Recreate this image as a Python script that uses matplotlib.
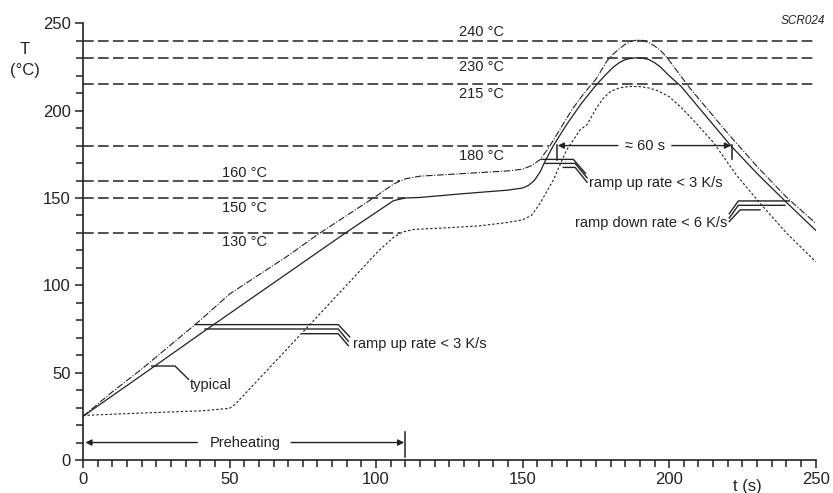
import matplotlib
matplotlib.use('Agg')
import matplotlib.pyplot as plt
from matplotlib.ticker import MultipleLocator

plt.rcParams['font.family'] = ['Liberation Sans', 'DejaVu Sans']

# ---- data ----
# upper limit curve (dash-dot)
t_max = [0, 10, 20, 30, 40, 50, 60, 70, 80, 90, 100, 106, 110, 115, 125, 135, 145, 150,
         153, 156, 159, 163, 167, 171, 175, 179, 181, 183, 185, 187, 189, 191, 193, 195,
         197, 199, 203, 207, 212, 220, 230, 240, 250]
T_max = [25, 39, 52, 66, 80, 95, 106, 117, 129, 140, 151, 158, 161, 162.5, 163.5, 164.5,
         165.5, 166.5, 168.5, 172, 179, 190, 201, 210, 218, 229, 232.5, 235.5, 238, 239.7,
         240.4, 240.2, 239, 237, 234.5, 231, 222, 213, 203, 187, 168, 150.5, 135.5]
# typical curve (solid)
t_typ = [0, 20, 42, 90, 106, 110, 115, 130, 145, 150, 152, 154, 156, 157.5, 160.5, 165,
         170, 175, 178, 181, 183, 185, 187, 189, 191, 193, 195, 197, 200, 204, 210, 215,
         221, 230, 240, 250]
T_typ = [25, 48.5, 74.5, 130.5, 148.5, 150, 150.3, 152.5, 154.5, 155.7, 157.2, 160, 165,
         170.5, 180, 192, 204, 214.5, 220, 225, 227.5, 229.2, 230, 230.2, 230, 229.3, 227.5,
         225, 220, 214, 202, 192, 180, 164, 147.5, 131.5]
# lower limit curve (dotted)
t_min = [0, 17, 41, 50, 52, 77.4, 101, 106, 109, 113, 125, 135, 145, 150, 153, 156, 158,
         160.5, 163, 165, 169.6, 172, 175, 177.5, 180, 183, 186, 190, 193, 196, 200, 204,
         208, 215, 223, 231, 240, 250]
T_min = [25.5, 26.7, 28.2, 29.6, 32, 77.5, 120, 127.5, 130.5, 132, 133, 134, 136, 137.5,
         140, 147, 153, 160.3, 170, 177.4, 189, 192, 201, 207, 211, 213, 213.8, 213.8, 213,
         211.5, 208, 202, 195, 182, 163, 147, 130, 113.5]

# reference temperature levels
ref_levels = [240, 230, 215, 180, 160, 150, 130]
ref_ends = [250, 250, 250, 159, 108, 110, 108]
ref_labels = ['240 °C', '230 °C', '215 °C', '180 °C', '160 °C', '150 °C', '130 °C']
ref_label_pos = [(136, 245.2), (136, 224.8), (136, 209.5), (136, 174),
                 (55, 164.3), (55, 144.2), (55, 124.8)]

x_ticks = [0, 50, 100, 150, 200, 250]
y_ticks = [0, 50, 100, 150, 200, 250]

# ---- figure ----
fig = plt.figure(figsize=(8.33, 4.93), dpi=100)
ax = fig.add_axes([83 / 833, 33 / 493, 732.7 / 833, 436.7 / 493])
ax.set_xlim(0, 250)
ax.set_ylim(0, 250)
for s in ['top', 'right']:
    ax.spines[s].set_visible(False)
for s in ['left', 'bottom']:
    ax.spines[s].set_linewidth(1.2)
    ax.spines[s].set_color('#222222')
ax.set_xticks(x_ticks)
ax.set_yticks(y_ticks)
ax.xaxis.set_minor_locator(MultipleLocator(5))
ax.yaxis.set_minor_locator(MultipleLocator(10))
ax.tick_params(which='both', direction='out', width=1.1, color='#222222',
               labelsize=12, pad=3, labelcolor='#222222')
ax.tick_params(which='major', length=6)
ax.tick_params(which='minor', length=5)

ink = '#222222'

# reference dashed lines
for lvl, end in zip(ref_levels, ref_ends):
    ax.plot([0, end], [lvl, lvl], color=ink, lw=1.1, linestyle=(0, (7, 2.8)),
            clip_on=False)
for lab, (x, y) in zip(ref_labels, ref_label_pos):
    ax.text(x, y, lab, ha='center', va='center', fontsize=10.5, color=ink)

# curves
ax.plot(t_max, T_max, color=ink, lw=0.8, linestyle=(0, (6, 1.5, 1, 1.5)))
ax.plot(t_typ, T_typ, color=ink, lw=0.9, linestyle='-')
ax.plot(t_min, T_min, color=ink, lw=0.8, linestyle=(0, (2.2, 1.8)))

lw_l = 1.0
# "typical" leader
ax.plot([23.4, 31.4, 36], [53.8, 53.8, 46.2], color=ink, lw=lw_l)
ax.text(36.5, 43, 'typical', ha='left', va='center', fontsize=10.5, color=ink)

# lower ramp-up leaders
ax.plot([38.2, 87.1, 91], [77.5, 77.5, 70.5], color=ink, lw=lw_l)
ax.plot([41.6, 87.1, 90.5], [75, 75, 68], color=ink, lw=lw_l)
ax.plot([75, 87.1, 90.5], [72.3, 72.3, 65.5], color=ink, lw=lw_l)
ax.text(92, 66.2, 'ramp up rate < 3 K/s', ha='left', va='center', fontsize=10.5, color=ink)

# upper ramp-up leaders
ax.plot([156.5, 167.3, 171.5], [172.1, 172.1, 164], color=ink, lw=lw_l)
ax.plot([157.6, 167.9, 172], [169.8, 169.8, 161.5], color=ink, lw=lw_l)
ax.plot([163.9, 167.9, 172], [167.5, 167.5, 159], color=ink, lw=lw_l)
ax.text(172.7, 158.7, 'ramp up rate < 3 K/s', ha='left', va='center', fontsize=10.5, color=ink)

# ramp-down leaders
ax.plot([241, 223.6, 220.5], [148.3, 148.3, 141], color=ink, lw=lw_l)
ax.plot([239.5, 223.6, 220.5], [145.8, 145.8, 138.5], color=ink, lw=lw_l)
ax.plot([231, 224.2, 220.5], [143.2, 143.2, 136.5], color=ink, lw=lw_l)
ax.text(219.8, 135.5, 'ramp down rate < 6 K/s', ha='right', va='center', fontsize=10.5, color=ink)

arr = dict(arrowstyle='-|>', color=ink, lw=1.0, mutation_scale=9, shrinkA=0, shrinkB=0)
# preheating arrow
ax.annotate('', xy=(0.8, 10), xytext=(39, 10), arrowprops=arr)
ax.annotate('', xy=(109.6, 10), xytext=(71, 10), arrowprops=arr)
ax.plot([110, 110], [2, 16], color=ink, lw=1.1)
ax.text(55.3, 10, 'Preheating', ha='center', va='center', fontsize=10.5, color=ink)

# 60 s arrow
ax.annotate('', xy=(162, 180), xytext=(182.5, 180), arrowprops=arr)
ax.annotate('', xy=(221.1, 180), xytext=(200.9, 180), arrowprops=arr)
ax.plot([161.8, 161.8], [172, 180.3], color=ink, lw=1.1)
ax.plot([221.3, 221.3], [172.5, 180.3], color=ink, lw=1.1)
ax.text(191.7, 180, '≈ 60 s', ha='center', va='center', fontsize=10.5, color=ink)

# axis titles
fig.text(25 / 833, 1 - 50 / 493, 'T', ha='center', va='center', fontsize=12, color=ink)
fig.text(25 / 833, 1 - 70 / 493, '(°C)', ha='center', va='center', fontsize=12, color=ink)
fig.text(747 / 833, 1 - 486 / 493, 't (s)', ha='center', va='center', fontsize=12, color=ink)
fig.text(825 / 833, 1 - 20.7 / 493, 'SCR024', ha='right', va='center', fontsize=8.5,
         style='italic', color=ink)

fig.savefig('out.png', dpi=100)
